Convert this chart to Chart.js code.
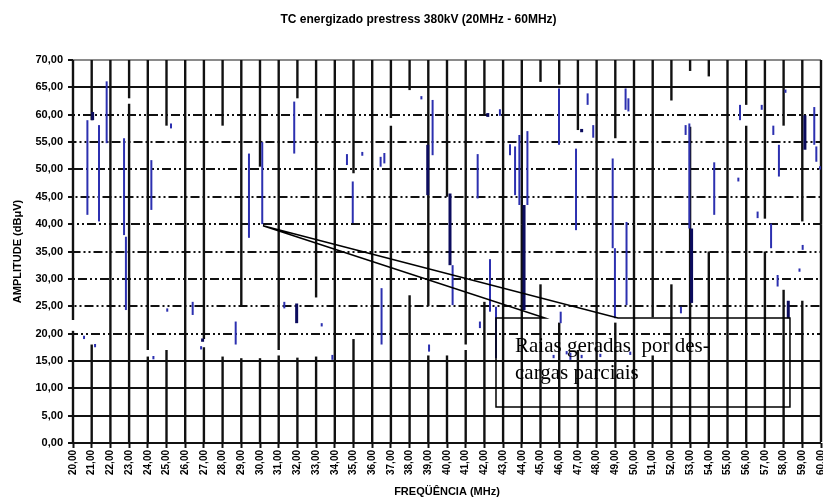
<!DOCTYPE html>
<html>
<head>
<meta charset="utf-8">
<script src="https://cdn.jsdelivr.net/npm/chart.js@4.4.1/dist/chart.umd.min.js"></script>
<style>
  html, body { margin: 0; padding: 0; background: #fff; }
</style>
</head>
<body>
<canvas id="spectrum" width="823" height="499"></canvas>
<script>
// Frequency grid (MHz) and amplitude ticks (dBuV)
const colFreq = [20, 21, 22, 23, 24, 25, 26, 27, 28, 29, 30, 31, 32, 33, 34, 35, 36, 37, 38, 39, 40,
  41, 42, 43, 44, 45, 46, 47, 48, 49, 50, 51, 52, 53, 54, 55, 56, 57, 58, 59, 60];
const ampTicks = [0, 5, 10, 15, 20, 25, 30, 35, 40, 45, 50, 55, 60, 65, 70];

// Black lines at each MHz: black from 0 up to gapLow and from gapHigh up to 70
const gapLow = [20.5, 18, 40, 62, 15.8, 17, 40, 17.5, 15.8, 15.5, 15.5, 16, 15.6, 15.8, 40, 19, 40, 58, 27, 16, 16,
  17, 25.8, 40, 40, 29, 22, 17, 40, 22, 40, 16, 29, 57.8, 35, 40, 58, 35, 28, 26, 40];
const gapHigh = [22.5, 59, 40, 63, 17, 58, 40, 19, 58, 25, 50.5, 17, 63, 26.6, 40, 49.3, 40, 59.4, 64.5, 25, 45,
  18, 60, 40, 40, 66, 65.5, 57.2, 40, 55.7, 40, 23, 62.6, 68, 67, 40, 61.8, 41, 58, 40.5, 40];

// Blue lines (partial discharges): frequency, min and max amplitude
const pdFreq = [20.59, 20.77, 21.18, 21.39, 21.8, 22.73, 22.83, 24.19, 24.3, 25.04, 25.24, 26.4, 26.85, 28.7, 29.41,
  30.12, 31.3, 31.83, 33.3, 33.87, 34.65, 34.96, 35.47, 36.45, 36.5, 36.65, 38.63, 39.04, 39.23,
  40.3, 41.64, 41.76, 42.3, 42.62, 42.83, 43.37, 43.64, 43.87, 44.3, 45.7, 45.99, 46.08, 46.4, 46.6, 46.9,
  47.2, 47.52, 47.82, 48.2, 48.86, 48.98, 49.55, 49.6, 49.7, 49.8, 52.51, 52.76, 52.96, 54.29, 55.58, 55.67,
  56.61, 56.83, 57.33, 57.45, 57.68, 57.75, 58.1, 58.85, 59.02, 59.64, 59.75, 59.95];
const pdLow = [19.0, 41.7, 17.5, 40.5, 54.8, 38.0, 24.3, 42.6, 15.3, 24.0, 57.5, 23.4, 17.1, 18.0, 37.5,
  40.0, 24.6, 52.9, 21.3, 15.2, 50.8, 40.2, 52.5, 50.5, 18.0, 51.1, 62.8, 16.7, 52.6,
  25.2, 44.7, 21.0, 24.0, 15.5, 59.8, 52.6, 45.3, 43.5, 43.5, 15.5, 54.5, 21.9, 16.2, 15.2, 38.9,
  15.5, 61.8, 55.8, 15.7, 35.6, 22.8, 60.9, 25.2, 60.6, 16.1, 23.7, 56.3, 39.2, 41.7, 47.8, 59.0,
  41.1, 60.9, 35.6, 56.3, 28.6, 48.7, 64.0, 31.3, 35.3, 54.5, 51.4, 50.0];
const pdHigh = [19.6, 59.0, 18.1, 58.1, 66.1, 55.7, 37.7, 51.7, 15.9, 24.6, 58.4, 25.8, 17.7, 22.2, 52.9,
  55.0, 25.8, 62.4, 21.9, 16.1, 52.8, 47.8, 53.2, 52.3, 28.3, 53.0, 63.4, 18.0, 62.7,
  32.5, 52.8, 22.2, 33.6, 24.9, 61.0, 54.6, 54.2, 56.3, 57.0, 16.1, 64.8, 24.0, 16.8, 16.5, 53.8,
  16.1, 63.9, 58.1, 16.3, 52.0, 35.6, 64.8, 40.4, 63.0, 16.7, 24.9, 58.1, 58.4, 51.3, 48.5, 61.8,
  42.3, 61.8, 40.1, 58.0, 30.7, 54.5, 64.6, 31.9, 36.2, 61.4, 54.2, 50.6];

// Dark navy lines (strongest discharges)
const darkFreq = [21.05, 26.93, 31.96, 38.97, 40.16, 42.18, 44.12, 47.2, 53.08, 58.25, 59.14];
const darkLow = [59.0, 18.5, 21.9, 45.3, 32.5, 59.6, 24.3, 56.8, 25.6, 22.8, 53.6];
const darkHigh = [60.5, 19.1, 25.5, 54.5, 45.6, 60.3, 43.5, 57.4, 39.2, 26.0, 59.9];

// Callout note (positions in MHz / dBuV)
const noteLines = ["Raias geradas  por des-", "cargas parciais"];
const noteTip = { f: 30.16, a: 39.7 };
const noteBox = { left: 42.62, right: 58.34, top: 22.85, bottom: 6.6, wedgeA: 45.24, wedgeB: 49.14 };

const sans = "'Liberation Sans', Arial, sans-serif";
const fmt = (v) => v.toFixed(2).replace(".", ",");

// Draws the callout box with the pointer to the PD line
const calloutPlugin = {
  id: "callout",
  afterDatasetsDraw(chart) {
    const { ctx, scales: { x, y } } = chart;
    const px = (v) => x.getPixelForValue(v);
    const py = (v) => y.getPixelForValue(v);
    ctx.save();
    ctx.strokeStyle = "#000";
    ctx.lineWidth = 1.5;
    ctx.beginPath();
    ctx.moveTo(px(noteBox.left), py(noteBox.top));
    ctx.lineTo(px(noteBox.wedgeA), py(noteBox.top));
    ctx.lineTo(px(noteTip.f), py(noteTip.a));
    ctx.lineTo(px(noteBox.wedgeB), py(noteBox.top));
    ctx.lineTo(px(noteBox.right), py(noteBox.top));
    ctx.lineTo(px(noteBox.right), py(noteBox.bottom));
    ctx.lineTo(px(noteBox.left), py(noteBox.bottom));
    ctx.closePath();
    ctx.stroke();
    ctx.fillStyle = "#000";
    ctx.font = "21px 'Liberation Serif', 'Times New Roman', serif";
    noteLines.forEach((t, i) => {
      ctx.fillText(t, px(noteBox.left) + 19, py(noteBox.top) + 34 + i * 27);
    });
    ctx.restore();
  }
};

new Chart(document.getElementById("spectrum"), {
  type: "bar",
  data: {
    datasets: [
      {
        label: "fundo (alto)",
        data: colFreq.map((f, i) => ({ x: f, y: [gapHigh[i], 70] })),
        backgroundColor: "#111",
        barThickness: 2.4,
        order: 3,
        clip: false
      },
      {
        label: "fundo (baixo)",
        data: colFreq.map((f, i) => ({ x: f, y: [0, gapLow[i]] })),
        backgroundColor: "#111",
        barThickness: 2.4,
        order: 3,
        clip: false
      },
      {
        label: "descargas",
        data: pdFreq.map((f, i) => ({ x: f, y: [pdLow[i], pdHigh[i]] })),
        backgroundColor: "#2c30b0",
        barThickness: 2,
        order: 2
      },
      {
        label: "descargas fortes",
        data: darkFreq.map((f, i) => ({ x: f, y: [darkLow[i], darkHigh[i]] })),
        backgroundColor: "#0c0c5e",
        barThickness: 3,
        order: 1
      }
    ]
  },
  options: {
    responsive: false,
    animation: false,
    datasets: { bar: { grouped: false, borderWidth: 0, inflateAmount: 0 } },
    layout: { padding: { left: 16, right: 2, top: 0, bottom: 0 } },
    plugins: {
      legend: { display: false },
      tooltip: { enabled: false },
      title: {
        display: true,
        text: "TC energizado prestress 380kV (20MHz - 60MHz)",
        color: "#000",
        font: { family: sans, size: 12, weight: "bold" },
        padding: { top: 12, bottom: 33.6 }
      }
    },
    scales: {
      x: {
        type: "linear",
        min: 20,
        max: 60,
        offset: false,
        afterBuildTicks: (s) => { s.ticks = colFreq.map((v) => ({ value: v })); },
        afterFit: (s) => { s.height = 56; s.paddingLeft = 0; s.paddingRight = 0; },
        grid: { drawOnChartArea: false, offset: false, tickLength: 5, tickColor: "#111", tickWidth: 2 },
        border: { display: false },
        ticks: {
          autoSkip: false,
          minRotation: 90,
          maxRotation: 90,
          padding: 2,
          color: "#000",
          font: { family: sans, size: 10, weight: "bold" },
          callback: (v) => fmt(v)
        },
        title: {
          display: true,
          text: "FREQÜÊNCIA (MHz)",
          color: "#000",
          font: { family: sans, size: 11, weight: "bold" },
          padding: 0
        }
      },
      y: {
        min: 0,
        max: 70,
        afterBuildTicks: (s) => { s.ticks = ampTicks.map((v) => ({ value: v })); },
        afterFit: (s) => { s.width = 57; },
        grid: {
          color: (c) => (c.tick && c.tick.value === 70 ? "#8a8a8a" : "#111"),
          lineWidth: 2,
          tickLength: 5,
          tickColor: "#111",
          tickWidth: 2
        },
        border: {
          display: false,
          // lines inside the noise band look broken
          dash: (c) => (c.tick && c.tick.value >= 20 && c.tick.value <= 60 ? [9, 3, 2, 3, 2, 3] : []),
          dashOffset: (c) => (c.tick ? c.tick.value * 1.3 : 0)
        },
        ticks: {
          padding: 5,
          color: "#000",
          font: { family: sans, size: 11, weight: "bold" },
          callback: (v) => fmt(v)
        },
        title: {
          display: true,
          text: "AMPLITUDE (dBμV)",
          color: "#000",
          font: { family: sans, size: 11, weight: "bold" },
          padding: { top: -5, bottom: 0 }
        }
      }
    }
  },
  plugins: [calloutPlugin]
});
</script>
</body>
</html>
